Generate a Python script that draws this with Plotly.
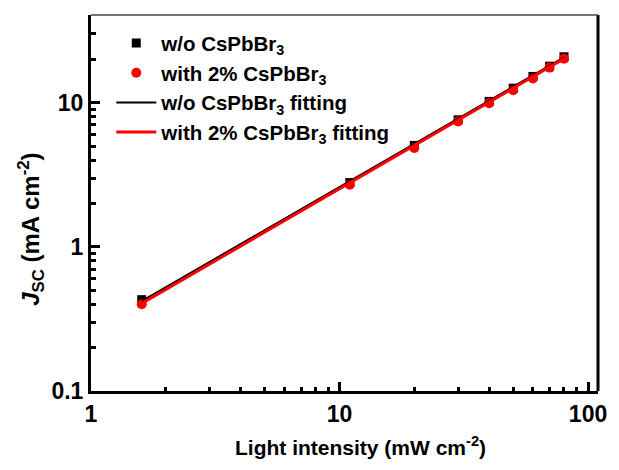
import plotly.graph_objects as go

# Data
intensity = [1.6, 11, 20, 30, 40, 50, 60, 70, 80]
jsc_wo = [0.43, 2.79, 5.05, 7.6, 10.2, 12.6, 15.2, 17.9, 20.8]
jsc_with = [0.40, 2.70, 4.85, 7.4, 9.9, 12.2, 14.7, 17.5, 20.2]
fit_x = [1.6, 80]
fit_wo = [0.42, 20.6]
fit_with = [0.405, 20.2]

x_ticks = [1, 10, 100]
x_ticktext = ["1", "10", "100"]
y_ticks = [0.1, 1, 10]
y_ticktext = ["0.1", "1", "10"]
x_minor = [2, 3, 4, 5, 6, 7, 8, 9, 20, 30, 40, 50, 60, 70, 80, 90]
y_minor = [0.2, 0.3, 0.4, 0.5, 0.6, 0.7, 0.8, 0.9, 2, 3, 4, 5, 6, 7, 8, 9, 20, 30, 40]

FONT = "Arial, 'Liberation Sans', sans-serif"

fig = go.Figure()
fig.add_trace(go.Scatter(x=intensity, y=jsc_wo, mode="markers",
                         marker=dict(symbol="square", size=9, color="black"),
                         name="w/o CsPbBr<sub>3</sub>"))
fig.add_trace(go.Scatter(x=intensity, y=jsc_with, mode="markers",
                         marker=dict(symbol="circle", size=10, color="#ff0000"),
                         name="with 2% CsPbBr<sub>3</sub>"))
fig.add_trace(go.Scatter(x=fit_x, y=fit_wo, mode="lines",
                         line=dict(color="black", width=2),
                         name="w/o CsPbBr<sub>3</sub> fitting"))
fig.add_trace(go.Scatter(x=fit_x, y=fit_with, mode="lines",
                         line=dict(color="#ff0000", width=3),
                         name="with 2% CsPbBr<sub>3</sub> fitting"))

axis_common = dict(
    showline=True, linecolor="black", linewidth=3,
    ticks="inside", tickcolor="black", tickwidth=2.5,
    showgrid=False, zeroline=False,
    tickfont=dict(family=FONT, size=23, color="black", weight="bold"),
)

fig.update_xaxes(
    type="log", range=[0, 2.04],
    tickmode="array", tickvals=x_ticks, ticktext=x_ticktext, ticklen=9,
    minor=dict(tickmode="array", tickvals=x_minor, ticks="inside", ticklen=4,
               tickwidth=2.5, tickcolor="black", showgrid=False),
    **axis_common,
)
fig.update_yaxes(
    type="log", range=[-1, 1.608],
    tickmode="array", tickvals=y_ticks, ticktext=y_ticktext, ticklen=9,
    minor=dict(tickmode="array", tickvals=y_minor, ticks="inside", ticklen=5,
               tickwidth=2.5, tickcolor="black", showgrid=False),
    **axis_common,
)

# axis titles as annotations (positioned like the reference)
fig.add_annotation(text="Light intensity (mW cm<sup>-2</sup>)",
                   xref="paper", yref="paper", x=(364 - 91) / 514, y=(391 - 446) / 376,
                   xanchor="center", yanchor="middle", showarrow=False,
                   font=dict(family=FONT, size=21, color="black", weight="bold"))
fig.add_annotation(text="<i>J</i><sub>SC</sub> (mA cm<sup>-2</sup>)",
                   xref="paper", yref="paper", x=(30 - 91) / 514, y=(391 - 229) / 376,
                   xanchor="center", yanchor="middle", showarrow=False, textangle=-90,
                   font=dict(family=FONT, size=24, color="black", weight="bold"))

# right (thick) and top (thin) frame lines
fig.add_shape(type="line", xref="paper", yref="paper", x0=1, x1=1, y0=0, y1=1,
              line=dict(color="black", width=3))
fig.add_shape(type="line", xref="paper", yref="paper", x0=0, x1=1, y0=1, y1=1,
              line=dict(color="#444444", width=1.5))

fig.update_layout(
    width=619, height=470,
    margin=dict(l=91, r=14, t=15, b=79),
    plot_bgcolor="white", paper_bgcolor="white",
    showlegend=True,
    legend=dict(x=0.04, y=0.978, xanchor="left", yanchor="top",
                bgcolor="rgba(0,0,0,0)",
                font=dict(family=FONT, size=20.5, color="black", weight="bold"),
                itemwidth=40, tracegroupgap=0),
)

fig.write_html("out.html")
